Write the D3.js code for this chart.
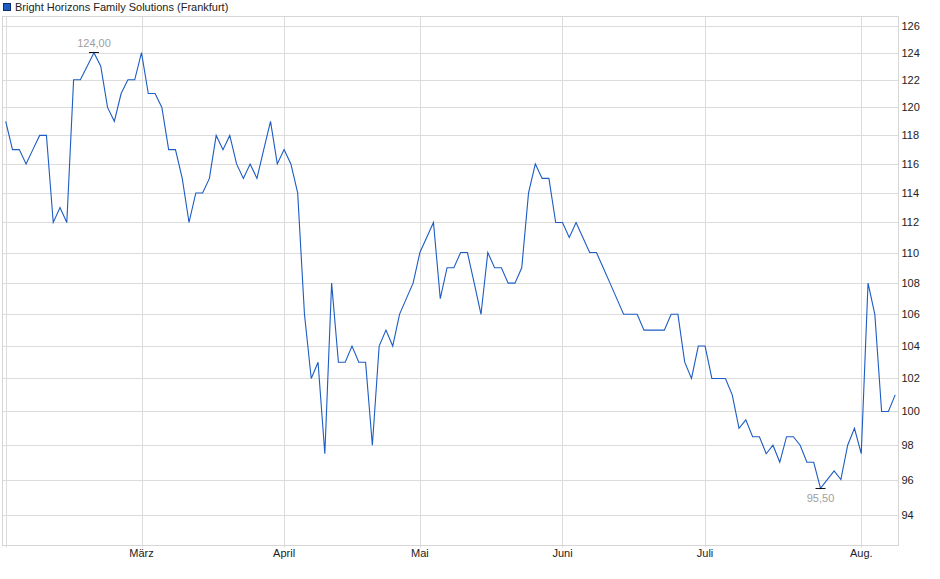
<!DOCTYPE html>
<html>
<head>
<meta charset="utf-8">
<title>Bright Horizons Family Solutions (Frankfurt)</title>
<script src="https://cdn.jsdelivr.net/npm/d3@7"></script>
<style>
  body { margin: 0; background: #fff; }
  svg text { font-family: "Liberation Sans", Arial, sans-serif; }
</style>
</head>
<body>
<svg id="chart" width="940" height="579"></svg>
<script>
// closing prices, one per trading day (Feb .. Aug)
var prices = [
  119, 117, 117, 116, 117, 118, 118, 112, 113, 112,
  122, 122, 123, 124, 123, 120, 119, 121, 122, 122,
  124, 121, 121, 120, 117, 117, 115, 112, 114, 114,
  115, 118, 117, 118, 116, 115, 116, 115, 117, 119,
  116, 117, 116, 114, 106, 102, 103, 97.5, 108, 103,
  103, 104, 103, 103, 98, 104, 105, 104, 106, 107,
  108, 110, 111, 112, 107, 109, 109, 110, 110, 108,
  106, 110, 109, 109, 108, 108, 109, 114, 116, 115,
  115, 112, 112, 111, 112, 111, 110, 110, 109, 108,
  107, 106, 106, 106, 105, 105, 105, 105, 106, 106,
  103, 102, 104, 104, 102, 102, 102, 101, 99, 99.5,
  98.5, 98.5, 97.5, 98, 97, 98.5, 98.5, 98, 97, 97,
  95.5, 96, 96.5, 96, 98, 99, 97.5, 108, 106, 100, 100, 101
];

// first trading day of each month (index into prices)
var monthLabels = ["", "März", "April", "Mai", "Juni", "Juli", "Aug."];
var monthStarts = [0, 20, 41, 61, 82, 103, 126];

var yTicks = [94, 96, 98, 100, 102, 104, 106, 108, 110, 112, 114, 116, 118, 120, 122, 124, 126];
var yDomain = [92.28, 126.72];

var seriesName = "Bright Horizons Family Solutions (Frankfurt)";

var frame = {left: 2.5, right: 898.5, top: 16.5, bottom: 545.5};
var lineColor = "#1c5cc4";

var svg = d3.select("#chart");

var x = d3.scaleLinear()
    .domain([0, prices.length - 1])
    .range([5.7, 895.2]);

var y = d3.scaleLog()
    .domain(yDomain)
    .range([frame.bottom, frame.top]);

// horizontal grid
svg.append("g")
  .selectAll("line")
  .data(yTicks)
  .enter().append("line")
  .attr("x1", frame.left)
  .attr("x2", frame.right)
  .attr("y1", function(d) { return Math.round(y(d)) + 0.5; })
  .attr("y2", function(d) { return Math.round(y(d)) + 0.5; })
  .attr("stroke", "#dcdcdc");

// vertical month grid
svg.append("g")
  .selectAll("line")
  .data(monthStarts)
  .enter().append("line")
  .attr("x1", function(d) { return Math.round(x(d)) + 0.5; })
  .attr("x2", function(d) { return Math.round(x(d)) + 0.5; })
  .attr("y1", frame.top)
  .attr("y2", frame.bottom + 2)
  .attr("stroke", "#dcdcdc");

// frame
svg.append("rect")
  .attr("x", frame.left)
  .attr("y", frame.top)
  .attr("width", frame.right - frame.left)
  .attr("height", frame.bottom - frame.top)
  .attr("fill", "none")
  .attr("stroke", "#d6d6d6");

// y labels on the right
svg.append("g")
  .selectAll("text")
  .data(yTicks)
  .enter().append("text")
  .attr("x", frame.right + 3)
  .attr("y", function(d) { return y(d) + 4; })
  .attr("font-size", "11px")
  .attr("fill", "#222")
  .text(function(d) { return d; });

// month labels
svg.append("g")
  .selectAll("text")
  .data(monthStarts)
  .enter().append("text")
  .attr("x", function(d) { return x(d); })
  .attr("y", frame.bottom + 11)
  .attr("text-anchor", "middle")
  .attr("font-size", "11px")
  .attr("fill", "#222")
  .text(function(d, i) { return monthLabels[i]; });

// price line
var line = d3.line()
    .x(function(d, i) { return x(i); })
    .y(function(d) { return y(d); });

svg.append("path")
  .datum(prices)
  .attr("d", line)
  .attr("fill", "none")
  .attr("stroke", lineColor)
  .attr("stroke-width", 1.1);

// high / low markers
var fmt = function(v) { return d3.format(".2f")(v).replace(".", ","); };
var iMax = d3.maxIndex(prices), iMin = d3.minIndex(prices);

var marks = [
  {i: iMax, v: prices[iMax], dy: -6, off: -0.5},
  {i: iMin, v: prices[iMin], dy: 13, off: 0.5}
];

marks.forEach(function(m) {
  var cx = x(m.i), cy = Math.round(y(m.v)) + m.off;
  svg.append("line")
    .attr("x1", cx - 5).attr("x2", cx + 5)
    .attr("y1", cy).attr("y2", cy)
    .attr("stroke", "#111")
    .attr("stroke-width", 1);
  svg.append("text")
    .attr("x", cx)
    .attr("y", cy + m.dy)
    .attr("text-anchor", "middle")
    .attr("font-size", "11px")
    .attr("fill", "#a0a0a0")
    .text(fmt(m.v));
});

// legend
svg.append("rect")
  .attr("x", 3.5).attr("y", 3.5)
  .attr("width", 7).attr("height", 7)
  .attr("fill", lineColor)
  .attr("stroke", "#0d2f6e");

svg.append("text")
  .attr("x", 15)
  .attr("y", 11)
  .attr("font-size", "11px")
  .attr("fill", "#222")
  .text(seriesName);
</script>
</body>
</html>
